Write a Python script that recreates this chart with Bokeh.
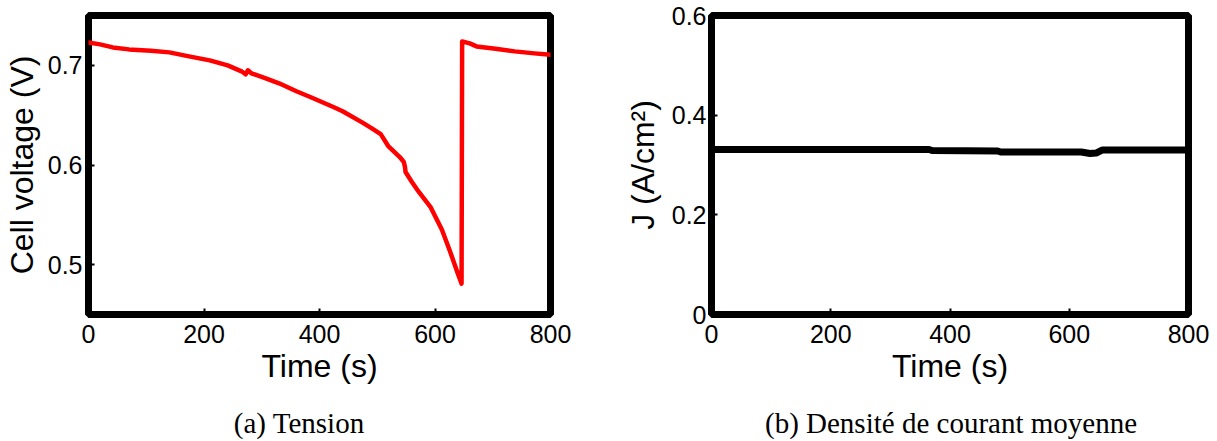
from bokeh.plotting import figure
from bokeh.models import FixedTicker, Range1d, Div, Spacer
from bokeh.layouts import row, column
from bokeh.embed import file_html
from bokeh.resources import INLINE

# ---------------- data ----------------
time_v = [0, 20, 42, 70, 108, 140, 174, 210, 241, 265, 272, 276, 282, 307, 330,
          360, 385, 407, 425, 440, 473, 490, 506, 519, 539, 546, 548, 549, 560,
          572, 592, 612, 625, 639, 646, 647, 660, 672, 705, 738, 772, 800]
voltage = [0.723, 0.721, 0.718, 0.716, 0.7146, 0.713, 0.709, 0.705, 0.700, 0.694,
           0.691, 0.695, 0.692, 0.687, 0.682, 0.674, 0.668, 0.6625, 0.658, 0.654,
           0.643, 0.637, 0.631, 0.619, 0.608, 0.603, 0.598, 0.593, 0.583, 0.573,
           0.558, 0.535, 0.515, 0.492, 0.481, 0.724, 0.722, 0.719, 0.7166, 0.714,
           0.712, 0.7106]

time_j = [0, 200, 365, 370, 480, 485, 620, 635, 645, 655, 700, 800]
current_density = [0.331, 0.331, 0.331, 0.329, 0.328, 0.326, 0.326, 0.323, 0.324,
                   0.330, 0.330, 0.330]

x_ticks = [0, 200, 400, 600, 800]
x_tick_labels = ["0", "200", "400", "600", "800"]
v_ticks = [0.5, 0.6, 0.7]
v_tick_labels = ["0.5", "0.6", "0.7"]
j_ticks = [0, 0.2, 0.4, 0.6]
j_tick_labels = ["0", "0.2", "0.4", "0.6"]

x_label = "Time (s)"
v_label = "Cell voltage (V)"
j_label = "J (A/cm²)"
captions = ["(a) Tension", "(b) Densité de courant moyenne"]

SANS = "Liberation Sans"
SERIF = "Liberation Serif"


def make_fig(frame_w, border_left, border_right, y_range, yticks, ylabels,
             ylabel, y_label_standoff, y_tick_standoff):
    p = figure(frame_width=frame_w, frame_height=299,
               min_border_left=border_left, min_border_right=border_right,
               min_border_top=15, min_border_bottom=76,
               x_range=Range1d(0, 800), y_range=Range1d(*y_range),
               output_backend="svg", toolbar_location=None, tools="")
    p.xgrid.visible = False
    p.ygrid.visible = False
    p.background_fill_color = "white"
    p.border_fill_color = "white"
    p.outline_line_color = "black"
    p.outline_line_width = 7

    xa = p.xaxis[0]
    xa.ticker = FixedTicker(ticks=x_ticks)
    xa.major_label_overrides = dict(zip(x_ticks, x_tick_labels))
    xa.axis_label = x_label
    ya = p.yaxis[0]
    ya.ticker = FixedTicker(ticks=yticks)
    ya.major_label_overrides = dict(zip(yticks, ylabels))
    ya.axis_label = ylabel

    for ax, ls, ts in ((xa, 2, 10), (ya, y_label_standoff, y_tick_standoff)):
        ax.axis_line_color = None
        ax.major_tick_in = 6
        ax.major_tick_out = 0
        ax.major_tick_line_width = 2
        ax.minor_tick_line_color = None
        ax.major_label_text_font = SANS
        ax.major_label_text_font_size = "25px"
        ax.major_label_text_color = "black"
        ax.major_label_standoff = ts
        ax.axis_label_text_font = SANS
        ax.axis_label_text_font_size = "32px"
        ax.axis_label_text_font_style = "normal"
        ax.axis_label_text_color = "black"
        ax.axis_label_standoff = ls
    return p


p1 = make_fig(462, 82, 56, (0.45, 0.75), v_ticks, v_tick_labels, v_label, 5, 6)
p1.line(time_v, voltage, line_color="#ff0000", line_width=4.5,
        line_join="round", line_cap="round")

p2 = make_fig(477, 105, 22, (0, 0.6), j_ticks, j_tick_labels, j_label, 8, 5)
p2.line(time_j, current_density, line_color="black", line_width=7,
        line_join="round", line_cap="round")

cap_style = {"font-family": SERIF, "font-size": "29px", "line-height": "20px",
             "text-align": "center", "color": "black", "white-space": "nowrap"}
d1 = Div(text=captions[0], width=582, height=20, margin=(23, 0, 0, 8),
         styles=cap_style)
d2 = Div(text=captions[1], width=500, height=20, margin=(23, 0, 0, 0),
         styles=cap_style)

layout = column(row(p1, p2, spacing=0),
                row(d1, Spacer(width=111, height=20, margin=0), d2, spacing=0),
                spacing=0)

with open("out.html", "w") as f:
    f.write(file_html(layout, INLINE))
